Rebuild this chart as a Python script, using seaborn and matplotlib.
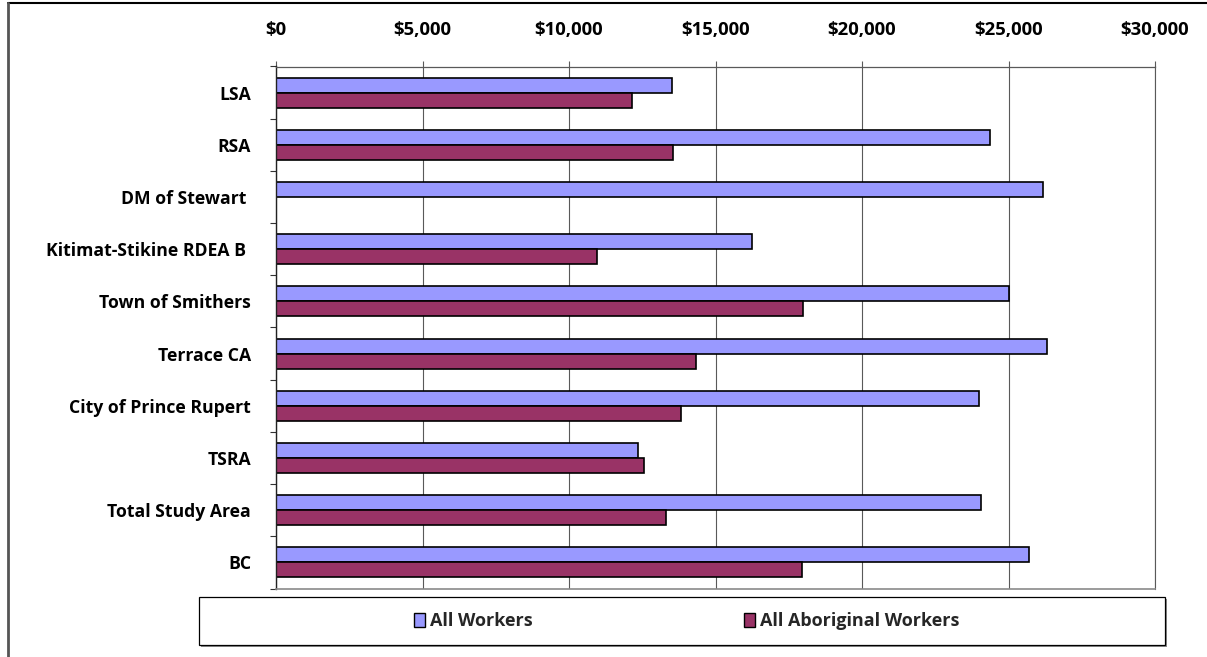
import matplotlib
matplotlib.use("Agg")
import matplotlib.pyplot as plt
import seaborn as sns
import pandas as pd
import numpy as np
from matplotlib.patches import Rectangle, Patch
from matplotlib.lines import Line2D
from matplotlib.ticker import FixedLocator

# Average employment income by area
categories = [
    "LSA",
    "RSA",
    "DM of Stewart ",
    "Kitimat-Stikine RDEA B ",
    "Town of Smithers",
    "Terrace CA",
    "City of Prince Rupert",
    "TSRA",
    "Total Study Area",
    "BC",
]
all_workers = [13520, 24380, 26190, 16250, 25000, 26300, 24010, 12360, 24050, 25710]
aboriginal_workers = [12150, 13560, np.nan, 10940, 18000, 14330, 13820, 12570, 13300, 17950]
series_names = ["All Workers", "All Aboriginal Workers"]
series_colors = ["#9999FF", "#993366"]
x_ticks = [0, 5000, 10000, 15000, 20000, 25000, 30000]
x_tick_labels = ["$0", "$5,000", "$10,000", "$15,000", "$20,000", "$25,000", "$30,000"]

df = pd.DataFrame({
    "Area": categories * 2,
    "Income": all_workers + aboriginal_workers,
    "Group": [series_names[0]] * len(categories) + [series_names[1]] * len(categories),
})

sns.set_theme(style="white")
plt.rcParams["font.family"] = ["Open Sans", "DejaVu Sans"]
FS_Y = 12.7
FS_X = 13.3
FS_LEG = 13.0

W, H = 1207, 657
fig = plt.figure(figsize=(W / 100, H / 100), dpi=100)
fig.patch.set_facecolor("white")

left, right, top, bottom = 276, 1155, 66.5, 588.5
ax = fig.add_axes([left / W, 1 - bottom / H, (right - left) / W, (bottom - top) / H])

sns.barplot(
    data=df, y="Area", x="Income", hue="Group",
    order=categories, hue_order=series_names, palette=series_colors,
    saturation=1, width=0.577, edgecolor="black", linewidth=1.2, errorbar=None,
    orient="h", ax=ax, legend=False,
)

ax.set_xlim(0, 30000)
ax.set_ylim(len(categories) - 0.5, -0.5)
ax.set_xlabel("")
ax.set_ylabel("")

# value axis along the top
ax.xaxis.tick_top()
ax.set_xticks(x_ticks)
ax.set_xticklabels(x_tick_labels, fontweight="bold", fontsize=FS_X, color="black")
ax.tick_params(axis="x", which="major", length=4.5, width=0.8, color="#595959",
               pad=15, top=True, bottom=False, labeltop=True, labelbottom=False)
ax.grid(axis="x", color="#595959", linewidth=0.8)
ax.grid(axis="y", visible=False)
ax.set_axisbelow(True)

# category axis: labels centred, tick marks between categories
ax.set_yticks(range(len(categories)))
ax.set_yticklabels(categories, fontweight="bold", fontsize=FS_Y, color="black")
ax.tick_params(axis="y", which="major", length=0, pad=18)
ax.yaxis.set_minor_locator(FixedLocator(np.arange(-0.5, len(categories), 1)))
ax.tick_params(axis="y", which="minor", length=4.5, width=0.8, color="#333333", left=True)

for side, spine in ax.spines.items():
    spine.set_visible(True)
ax.spines["left"].set_color("#222222")
ax.spines["left"].set_linewidth(1.0)
ax.spines["top"].set_color("#595959")
ax.spines["top"].set_linewidth(0.9)
ax.spines["bottom"].set_color("#8a8a8a")
ax.spines["bottom"].set_linewidth(1.2)
ax.spines["right"].set_color("#595959")
ax.spines["right"].set_linewidth(0.8)

# chart-area border (top and left edges)
fig.add_artist(Line2D([8 / W, 1], [1 - 2.5 / H, 1 - 2.5 / H], transform=fig.transFigure,
                      color="black", linewidth=1.5))
fig.add_artist(Line2D([8 / W, 8 / W], [0, 1 - 2.5 / H], transform=fig.transFigure,
                      color="#555555", linewidth=2))

# legend box with shadow
lx0, lx1, ly0, ly1 = 199, 1165, 597, 645
fig.add_artist(Rectangle(((lx0 + 2) / W, 1 - (ly1 + 2) / H), (lx1 - lx0) / W, (ly1 - ly0) / H,
                         transform=fig.transFigure, facecolor="#8c8c8c", edgecolor="none", zorder=1))
fig.add_artist(Rectangle((lx0 / W, 1 - ly1 / H), (lx1 - lx0) / W, (ly1 - ly0) / H,
                         transform=fig.transFigure, facecolor="white", edgecolor="black",
                         linewidth=0.9, zorder=2))

handles = [Patch(facecolor=c, edgecolor="black", linewidth=1.0) for c in series_colors]
fig.legend(handles, series_names, loc="center", bbox_to_anchor=(686.5 / W, 1 - 621 / H),
           ncol=2, frameon=False, prop={"weight": "bold", "size": FS_LEG},
           handlelength=0.65, handleheight=0.8, handletextpad=0.25, columnspacing=11.7)

fig.savefig("out.png", dpi=100, facecolor="white")
